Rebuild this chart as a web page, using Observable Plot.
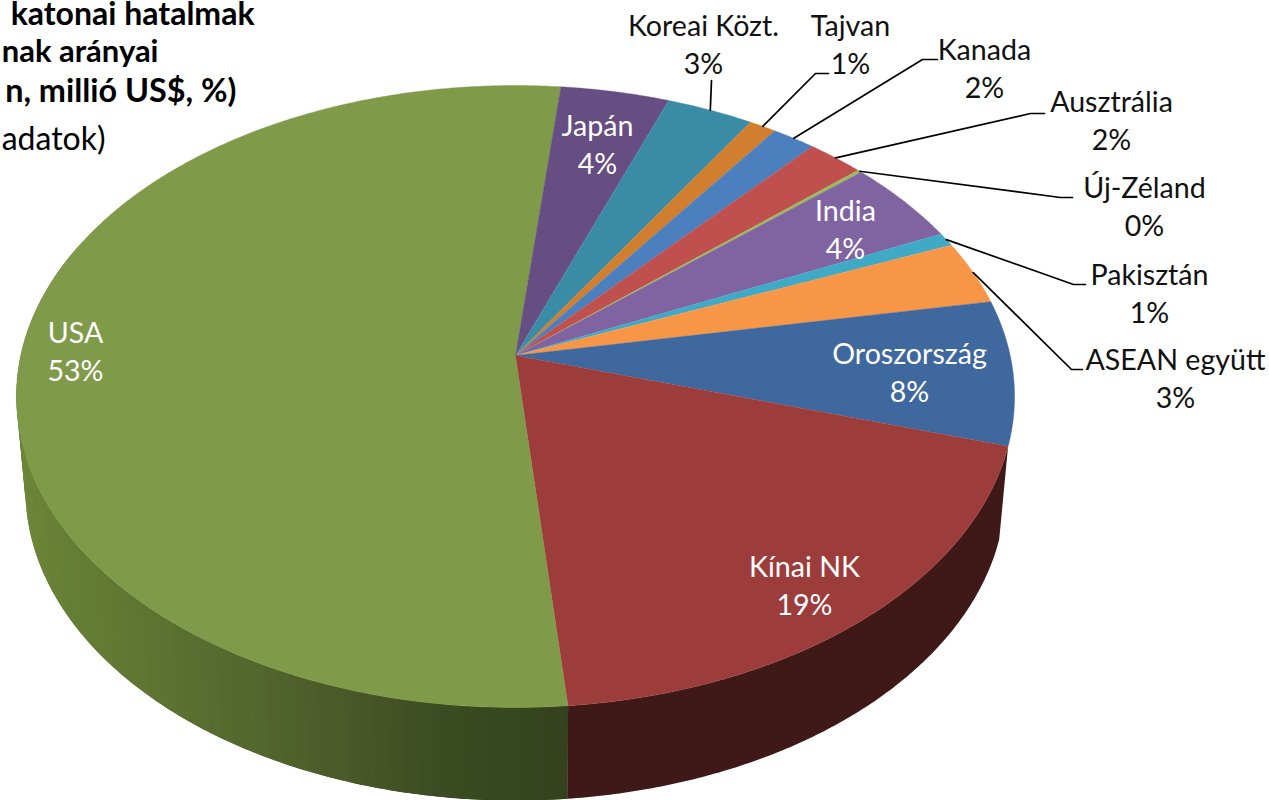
<!DOCTYPE html>
<html>
<head>
<meta charset="utf-8">
<style>html,body{margin:0;padding:0;background:#fff;overflow:hidden}svg{display:block}</style>
<script src="https://cdn.jsdelivr.net/npm/d3@7"></script>
<script src="https://cdn.jsdelivr.net/npm/@observablehq/plot@0.6"></script>
</head>
<body>
<script>
// data: clockwise from the USA slice
const names = ["USA","Japán","Koreai Közt.","Tajvan","Kanada","Ausztrália","Új-Zéland","India","Pakisztán","ASEAN együtt","Oroszország","Kínai NK"];
const shares = [53.1,4.0,3.2,1.0,1.6,2.1,0.15,4.4,0.7,3.3,7.5,18.9];
const topColors = ["#7f9a48","#664d82","#3a8ca6","#d17f2e","#4c7fbd","#c0504d","#9bbb59","#8064a2","#40a9c6","#f79646","#3f689e","#9d3d3b"];
const titleBold = ["katonai hatalmak","nak arányai","n, millió US$, %)"];
const titleLight = ["adatok)"];

// layout (pixels, separate from the data)
const W = 1269, H = 800;
const start = 174.7;                         // first slice angle, degrees clockwise from top
const pie = {cx:515, cy:355, rx:494.7, a:305.6, p:-0.1318}; // perspective of the disc
const depth = 93, lowerScale = 490/499;
const inside = new Map([["USA",[75,352]],["Japán",[597,145]],["India",[845,230]],["Oroszország",[909,373]],["Kínai NK",[804,586]]]);
const callouts = new Map([
  ["Koreai Közt.",{c:[703,45],e:[[711,80]]}],
  ["Tajvan",{c:[850,45],e:[[815,73],[828,73]]}],
  ["Kanada",{c:[984,69],e:[[922,59],[937,59]]}],
  ["Ausztrália",{c:[1111,121],e:[[1030,113],[1044,113]]}],
  ["Új-Zéland",{c:[1144,207],e:[[1060,197],[1072,197]]}],
  ["Pakisztán",{c:[1149,294],e:[[1073,284],[1085,284]]}],
  ["ASEAN együtt",{c:[1175,379],e:[[1071,369],[1082,369]]}]
]);

const rad = d => d*Math.PI/180;
function project(deg, lower=false){
  const u = Math.sin(rad(deg)), v = -Math.cos(rad(deg)), w = 1 + pie.p*v;
  const k = lower ? lowerScale : 1;
  return {x: pie.cx + k*pie.rx*u/w, y: pie.cy + pie.a*v/w + (lower?depth:0)};
}
const total = d3.sum(shares);
let acc = start;
const slices = names.map((name,i)=>{
  const a0 = acc, a1 = acc + shares[i]/total*360; acc = a1;
  return {name, a0, a1, mid:(a0+a1)/2, color:topColors[i], pct:Math.round(shares[i]/total*100)+"%"};
});
const arc = (a0,a1) => d3.range(0,Math.ceil(a1-a0)*2+1).map(j=>a0+(a1-a0)*j/(Math.ceil(a1-a0)*2));

// top face
const topPts = slices.flatMap(s=>[
  {id:s.name,c:s.color,x:pie.cx,y:pie.cy},
  ...arc(s.a0,s.a1).map(a=>({id:s.name,c:s.color,...project(a)}))
]);

// side wall: overlapping strips drawn from the far left end towards the front, so no seams show
const usa = slices[0], china = slices[11];
const greenSide = d3.scaleLinear().domain([16,60,150,300,450,568]).range(["#6d8638","#667f36","#5d7431","#4f602b","#3a4a21","#33421d"]);
const sidePts = [];
const strips = d3.range(292, usa.a0, -1.5);
strips.forEach((b,i)=>{
  const a = Math.max(usa.a0, b-3), id="g"+i, c=greenSide(project(b-0.75).x);
  const arcPts = arc(a,b);
  [...arcPts.map(t=>project(t)),...arcPts.slice().reverse().map(t=>project(t,true))].forEach(p=>sidePts.push({id,c,...p}));
});
const chinaArc = arc(china.a0,china.a1);
[...chinaArc.map(a=>project(a)),...chinaArc.slice().reverse().map(a=>project(a,true))].forEach(p=>sidePts.push({id:"m",c:"#3f1917",...p}));

// labels and leaders
const inLabels = slices.filter(s=>inside.has(s.name)).map(s=>({t:s.name+"\n"+s.pct,x:inside.get(s.name)[0],y:inside.get(s.name)[1]}));
const outLabels = slices.filter(s=>callouts.has(s.name)).map(s=>({t:s.name+"\n"+s.pct,x:callouts.get(s.name).c[0],y:callouts.get(s.name).c[1]}));
const leaders = slices.filter(s=>callouts.has(s.name)).flatMap(s=>[
  {id:s.name,...project(s.mid)},
  ...callouts.get(s.name).e.map(([x,y])=>({id:s.name,x,y}))
]);

const font = "Lato, Carlito, sans-serif";
const chart = Plot.plot({
  width:W, height:H, margin:0,
  x:{domain:[0,W],range:[0,W],axis:null},
  y:{domain:[0,H],range:[0,H],axis:null},
  color:{type:"identity"},
  style:{background:"#fff",fontFamily:font},
  marks:[
    Plot.line(sidePts,{x:"x",y:"y",z:"id",fill:"c",curve:"linear"}),
    Plot.line(topPts,{x:"x",y:"y",z:"id",fill:"c",stroke:"c",strokeWidth:0.4,curve:"linear"}),
    Plot.line(leaders,{x:"x",y:"y",z:"id",stroke:"#000",strokeWidth:1.7,curve:"linear"}),
    Plot.text(inLabels,{x:"x",y:"y",dy:-3,text:"t",fill:"#fff",fontSize:28.6,lineHeight:1.33,fontFamily:font}),
    Plot.text(outLabels,{x:"x",y:"y",dy:-3,text:"t",fill:"#111",fontSize:28.6,lineHeight:1.33,fontFamily:font}),
    Plot.text(titleBold,{x:[254,158,236],y:[14,52,91],text:d=>d,textAnchor:"end",fill:"#000",fontSize:[32,31,32.4],fontWeight:"bold",fontFamily:font}),
    Plot.text(titleLight,{x:[105],y:[139],text:d=>d,textAnchor:"end",fill:"#000",fontSize:32,fontFamily:font})
  ]
});
document.body.appendChild(chart);
</script>
</body>
</html>
